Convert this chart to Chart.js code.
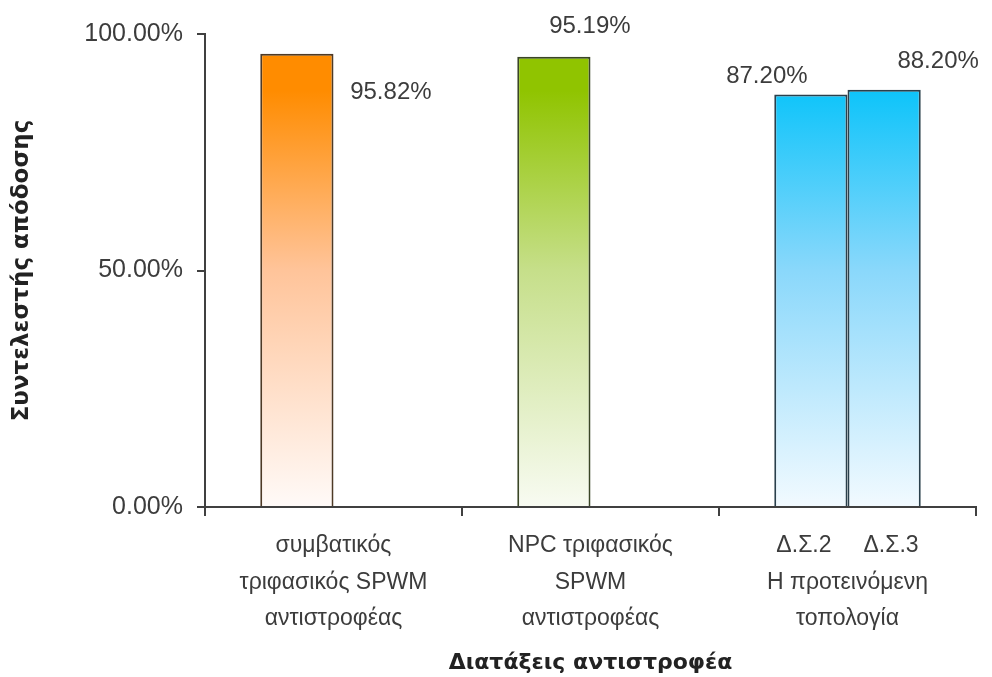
<!DOCTYPE html>
<html>
<head>
<meta charset="utf-8">
<script src="https://cdn.jsdelivr.net/npm/chart.js@4"></script>
<style>
  html, body { margin: 0; padding: 0; background: #fff; }
  #wrap { width: 992px; height: 677px; }
</style>
</head>
<body>
<div id="wrap"><canvas id="effChart" width="992" height="677"></canvas></div>
<script>
// inverter topologies on the x axis (multi-line labels)
const categories = [
  ["συμβατικός", "τριφασικός SPWM", "αντιστροφέας"],
  ["NPC τριφασικός", "SPWM", "αντιστροφέας"],
  ["Δ.Σ.2     Δ.Σ.3", "Η προτεινόμενη", "τοπολογία"]
];
// efficiency (%) – first bar of each group, second bar only for the proposed topology
const effMain = [95.82, 95.19, 87.20];
const effSecond = [null, null, 88.20];
const yTicks = [0, 50, 100];

// top / middle / bottom gradient colours for each category
const barColors = [
  ["#ff8c00", "#ffc49a", "#fffaf8"],
  ["#90c400", "#c6df8a", "#f8fbf2"],
  ["#0ec4fa", "#8ad8fb", "#f2faff"]
];
const borderColors = ["#4e3a26", "#3a4626", "#2a404c"];

function barGradient(ctx) {
  const chart = ctx.chart;
  const area = chart.chartArea;
  if (!area) return null;
  const c = barColors[ctx.dataIndex];
  const g = chart.ctx.createLinearGradient(0, area.top, 0, area.bottom);
  g.addColorStop(0, c[0]);
  g.addColorStop(0.12, c[0]);
  g.addColorStop(0.5, c[1]);
  g.addColorStop(1, c[2]);
  return g;
}

// value labels, offset from the top-centre of each bar
const labelOffsets = [
  [[94, 39], [36, -30], [-44, -18]],
  [null, null, [54, -28]]
];

const valueLabels = {
  id: "valueLabels",
  afterDatasetsDraw(chart) {
    const ctx = chart.ctx;
    ctx.save();
    ctx.font = "24px 'Liberation Sans', Arial, sans-serif";
    ctx.fillStyle = "#3c3c3c";
    ctx.textAlign = "center";
    ctx.textBaseline = "middle";
    chart.data.datasets.forEach((ds, di) => {
      chart.getDatasetMeta(di).data.forEach((bar, i) => {
        const v = ds.data[i];
        if (v == null) return;
        const off = labelOffsets[di][i];
        ctx.fillText(v.toFixed(2) + "%", bar.x + off[0], bar.y + off[1]);
      });
    });
    ctx.restore();
  }
};

new Chart(document.getElementById("effChart"), {
  type: "bar",
  data: {
    labels: categories,
    datasets: [
      {
        data: effMain,
        backgroundColor: barGradient,
        borderColor: ctx => borderColors[ctx.dataIndex],
        borderWidth: 2
      },
      {
        data: effSecond,
        backgroundColor: barGradient,
        borderColor: ctx => borderColors[ctx.dataIndex],
        borderWidth: 2
      }
    ]
  },
  options: {
    responsive: false,
    animation: false,
    layout: { padding: { top: 34, right: 16, left: 0, bottom: 0 } },
    categoryPercentage: 0.57,
    barPercentage: 1.0,
    plugins: {
      legend: { display: false },
      tooltip: { enabled: false }
    },
    scales: {
      x: {
        afterFit: s => { s.height = 170; },
        grid: {
          offset: true,
          drawOnChartArea: false,
          drawTicks: true,
          tickLength: 9,
          color: "#404040",
          lineWidth: 2
        },
        border: { color: "#404040", width: 2 },
        ticks: {
          color: "#3c3c3c",
          font: { family: "'Liberation Sans', Arial, sans-serif", size: 23, lineHeight: 1.57 },
          padding: 12,
          maxRotation: 0
        },
        title: {
          display: true,
          text: "Διατάξεις αντιστροφέα",
          color: "#222",
          font: { family: "'DejaVu Sans', sans-serif", size: 22, weight: "bold" },
          padding: { top: 0, bottom: 1 }
        }
      },
      y: {
        min: 0,
        max: 100,
        afterFit: s => { s.width = 205; },
        afterBuildTicks: s => { s.ticks = yTicks.map(v => ({ value: v })); },
        grid: {
          drawOnChartArea: false,
          drawTicks: true,
          tickLength: 8,
          color: "#404040",
          lineWidth: 2
        },
        border: { color: "#404040", width: 2 },
        ticks: {
          color: "#3c3c3c",
          font: { family: "'Liberation Sans', Arial, sans-serif", size: 25 },
          padding: 14,
          callback: v => v.toFixed(2) + "%"
        },
        title: {
          display: true,
          text: "Συντελεστής απόδοσης",
          color: "#222",
          font: { family: "'DejaVu Sans', sans-serif", size: 23, weight: "bold" },
          padding: { top: 8, bottom: 0 }
        }
      }
    }
  },
  plugins: [valueLabels]
});
</script>
</body>
</html>
